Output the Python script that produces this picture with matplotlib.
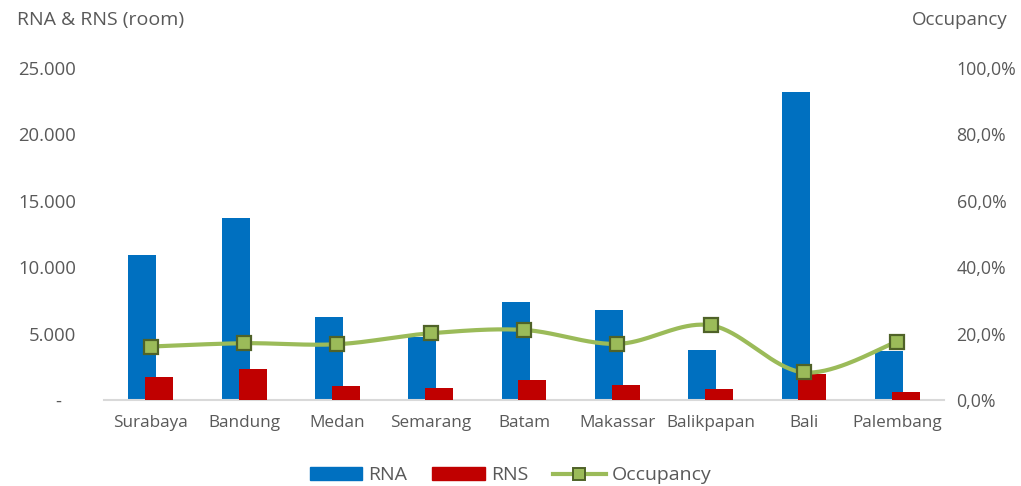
import matplotlib.pyplot as plt
import numpy as np
from matplotlib.ticker import FuncFormatter
from matplotlib.lines import Line2D
from matplotlib.patches import Patch

plt.rcParams['font.family'] = ['Open Sans', 'DejaVu Sans']

cities = ['Surabaya', 'Bandung', 'Medan', 'Semarang', 'Batam',
          'Makassar', 'Balikpapan', 'Bali', 'Palembang']
rna = [10900, 13700, 6250, 4750, 7380, 6780, 3770, 23200, 3690]
rns = [1750, 2350, 1050, 900, 1500, 1130, 800, 1960, 630]
occupancy = [16.1, 17.1, 16.8, 20.1, 21.1, 16.9, 22.5, 8.3, 17.6]

blue = '#0070C0'
red = '#C00000'
green = '#9BBB59'
dark_green = '#4F6228'
grey = '#595959'


def smooth(x, y, n=40):
    # Catmull-Rom style curve through every point (like a "smoothed line")
    x = np.asarray(x, float)
    y = np.asarray(y, float)
    px = np.concatenate([[x[0]], x, [x[-1]]])
    py = np.concatenate([[y[0]], y, [y[-1]]])
    xs, ys = [], []
    t = np.linspace(0, 1, n)
    for i in range(1, len(px) - 2):
        p0 = np.array([px[i], py[i]])
        p3 = np.array([px[i + 1], py[i + 1]])
        c1 = p0 + (p3 - np.array([px[i - 1], py[i - 1]])) / 6
        c2 = p3 - (np.array([px[i + 2], py[i + 2]]) - p0) / 6
        b = ((1 - t)**3)[:, None] * p0 + (3 * (1 - t)**2 * t)[:, None] * c1 \
            + (3 * (1 - t) * t**2)[:, None] * c2 + (t**3)[:, None] * p3
        xs.extend(b[:, 0])
        ys.extend(b[:, 1])
    return xs, ys


fig = plt.figure(figsize=(10.21, 4.86), dpi=100)
ax = fig.add_axes([0.102, 0.177, 0.8226, 0.683])
ax2 = ax.twinx()

x = np.arange(len(cities))
ax.bar(x - 0.09, rna, width=0.3, color=blue, zorder=2)
ax.bar(x + 0.09, rns, width=0.3, color=red, zorder=3)

sx, sy = smooth(x, occupancy)
ax2.plot(sx, sy, color=green, lw=3, solid_capstyle='round', zorder=4)
ax2.plot(x, occupancy, ls='none', marker='s', ms=10, mfc=green,
         mec=dark_green, mew=1.6, zorder=5)

ax.set_xlim(-0.5, len(cities) - 0.5)
ax.set_ylim(0, 25000)
ax2.set_ylim(0, 100)
ax.set_yticks(np.arange(0, 25001, 5000))
ax2.set_yticks(np.arange(0, 101, 20))
ax.yaxis.set_major_formatter(FuncFormatter(
    lambda v, p: '-   ' if v == 0 else f'{int(v):,}'.replace(',', '.')))
ax2.yaxis.set_major_formatter(FuncFormatter(
    lambda v, p: f'{v:.1f}%'.replace('.', ',')))

ax.set_xticks(x)
ax.set_xticklabels(cities)

for a in (ax, ax2):
    for s in a.spines.values():
        s.set_visible(False)
    a.tick_params(length=0, labelsize=13.3, colors=grey)
ax.spines['bottom'].set_visible(True)
ax.spines['bottom'].set_color('#D9D9D9')
ax.spines['bottom'].set_linewidth(1.5)
ax.tick_params(axis='y', pad=20)
ax.tick_params(axis='x', pad=11, labelsize=12.3)
ax2.tick_params(axis='y', pad=9, labelsize=12.8)

fig.text(0.017, 0.958, 'RNA & RNS (room)', fontsize=14, color=grey,
         va='center', ha='left')
fig.text(0.987, 0.958, 'Occupancy', fontsize=13.5, color=grey,
         va='center', ha='right')

handles = [Patch(color=blue, label='RNA'),
           Patch(color=red, label='RNS'),
           Line2D([], [], color=green, lw=3, marker='s', ms=8, mfc=green,
                  mec=dark_green, mew=1.4, label='Occupancy')]
fig.legend(handles=handles, loc='center', bbox_to_anchor=(0.5, 0.022),
           ncol=3, frameon=False, fontsize=14, labelcolor=grey,
           handlelength=2.7, handleheight=0.6, columnspacing=1.3,
           handletextpad=0.3)

fig.savefig('out.png', dpi=100)
